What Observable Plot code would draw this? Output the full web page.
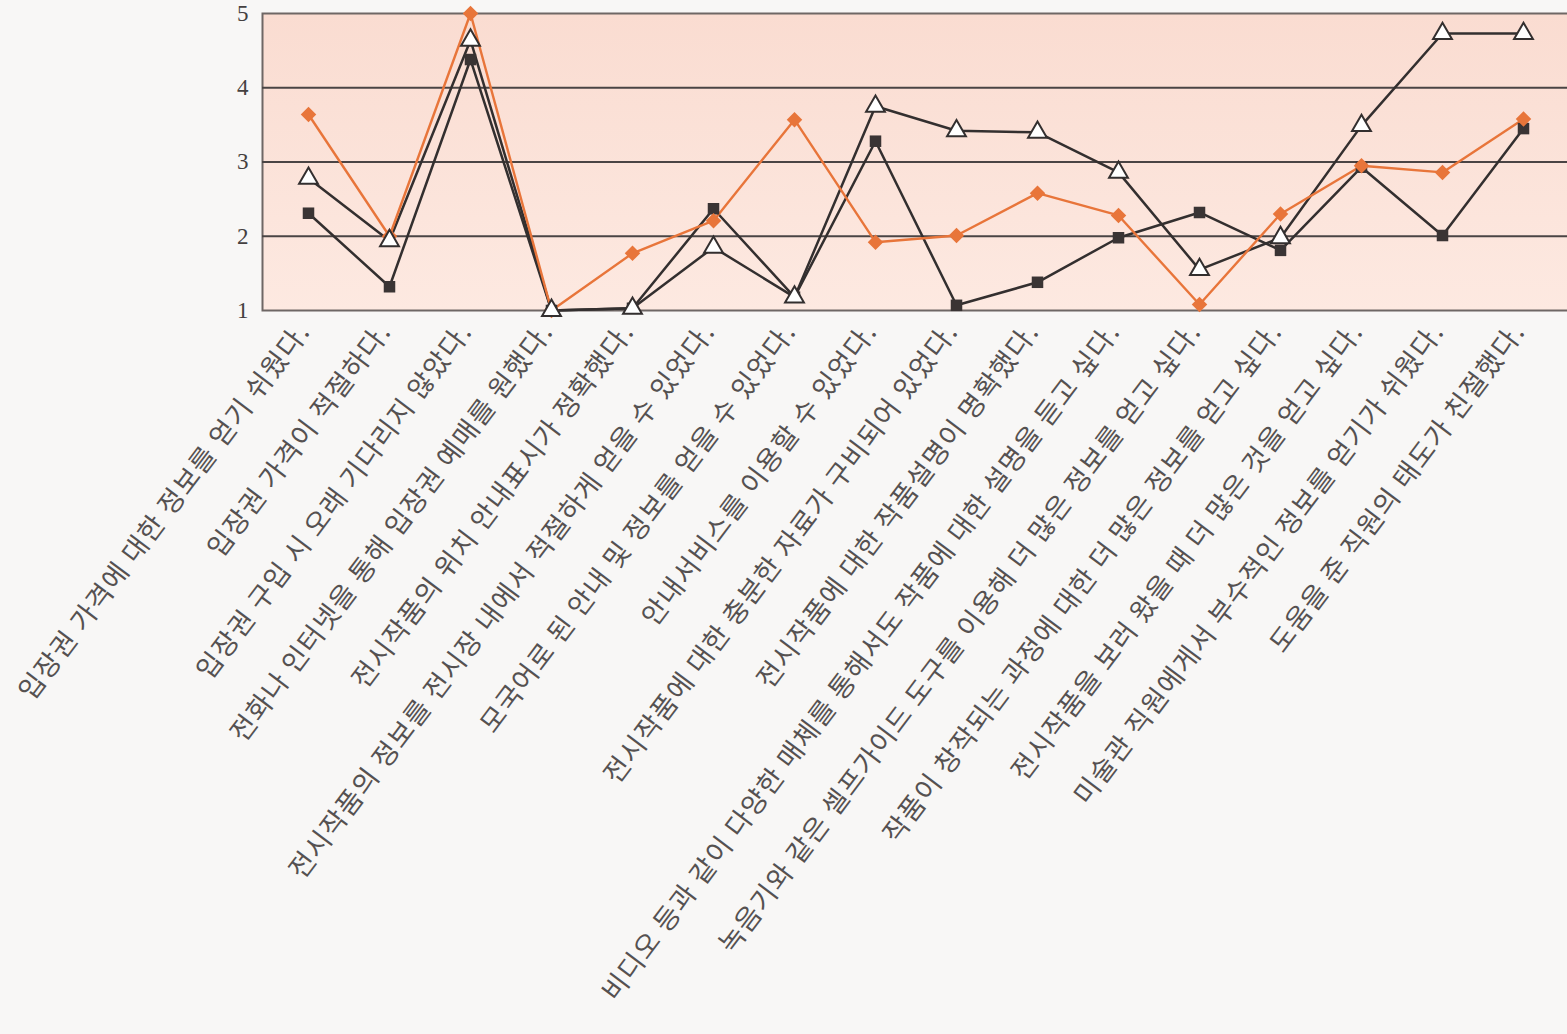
<!DOCTYPE html>
<html>
<head>
<meta charset="utf-8">
<script src="https://cdn.jsdelivr.net/npm/d3@7"></script>
<script src="https://cdn.jsdelivr.net/npm/@observablehq/plot@0.6"></script>
<style>
  html, body { margin: 0; padding: 0; background: #f8f7f6; }
  #chart { width: 1567px; height: 1034px; overflow: hidden; }
</style>
</head>
<body>
<div id="chart"></div>
<script>
const categories = [
  "입장권 가격에 대한 정보를 얻기 쉬웠다.",
  "입장권 가격이 적절하다.",
  "입장권 구입 시 오래 기다리지 않았다.",
  "전화나 인터넷을 통해 입장권 예매를 원했다.",
  "전시작품의 위치 안내표시가 정확했다.",
  "전시작품의 정보를 전시장 내에서 적절하게 얻을 수 있었다.",
  "모국어로 된 안내 및 정보를 얻을 수 있었다.",
  "안내서비스를 이용할 수 있었다.",
  "전시작품에 대한 충분한 자료가 구비되어 있었다.",
  "전시작품에 대한 작품설명이 명확했다.",
  "비디오 등과 같이 다양한 매체를 통해서도 작품에 대한 설명을 듣고 싶다.",
  "녹음기와 같은 셀프가이드 도구를 이용해 더 많은 정보를 얻고 싶다.",
  "작품이 창작되는 과정에 대한 더 많은 정보를 얻고 싶다.",
  "전시작품을 보러 왔을 때 더 많은 것을 얻고 싶다.",
  "미술관 직원에게서 부수적인 정보를 얻기가 쉬웠다.",
  "도움을 준 직원의 태도가 친절했다."
];
const orangeValues   = [3.64, 2.00, 5.00, 1.00, 1.77, 2.21, 3.57, 1.92, 2.01, 2.58, 2.28, 1.08, 2.30, 2.95, 2.86, 3.58];
const squareValues   = [2.31, 1.32, 4.38, 1.00, 1.03, 2.37, 1.18, 3.28, 1.07, 1.38, 1.98, 2.32, 1.81, 2.93, 2.01, 3.45];
const triangleValues = [2.78, 1.94, 4.64, 1.00, 1.03, 1.85, 1.18, 3.75, 3.42, 3.40, 2.86, 1.55, 1.98, 3.49, 4.73, 4.73];
const yTicks = [1, 2, 3, 4, 5];
const gridTicks = [2, 3, 4];

const toRows = (vals) => categories.map((c, i) => ({cat: c, v: vals[i]}));
const orange = toRows(orangeValues);
const square = toRows(squareValues);
const triangle = toRows(triangleValues);

const dark = "#332f2f";
const orangeColor = "#e8753a";

const chart = Plot.plot({
  width: 1567,
  height: 1034,
  marginLeft: 262,
  marginRight: -2,
  marginTop: 13,
  marginBottom: 724,
  style: {background: "transparent", overflow: "visible"},
  x: {type: "point", domain: categories, padding: 0.5, axis: null},
  y: {domain: [1, 5], axis: null},
  marks: [
    Plot.frame({fill: "url(#bgGrad)", stroke: "#6e6765", strokeWidth: 2}),
    Plot.ruleY(gridTicks, {stroke: "#4a4444", strokeWidth: 2}),
    Plot.axisY(yTicks, {
      tickSize: 0, tickPadding: 14, fontSize: 23, fill: "#444040",
      tickFormat: "d",
      fontFamily: "'Liberation Serif', 'DejaVu Serif', serif", label: null
    }),
    Plot.line(triangle, {x: "cat", y: "v", stroke: dark, strokeWidth: 2.5}),
    Plot.line(square, {x: "cat", y: "v", stroke: dark, strokeWidth: 2.5}),
    Plot.line(orange, {x: "cat", y: "v", stroke: orangeColor, strokeWidth: 2.4}),
    Plot.dot(square, {x: "cat", y: "v", symbol: "square", r: 6.5, fill: "#3a3434", stroke: "none"}),
    Plot.dot(orange, {x: "cat", y: "v", symbol: "diamond2", r: 7, fill: orangeColor, stroke: "none"}),
    Plot.dot(triangle, {x: "cat", y: "v", symbol: "triangle", r: 7, fill: "#ffffff", stroke: dark, strokeWidth: 2}),
    Plot.text(categories, {
      x: d => d, y: () => 1, text: d => d,
      rotate: -53, textAnchor: "end", lineAnchor: "middle",
      dx: -4, dy: 16, fontSize: 27,
      fill: "#555151",
      fontFamily: "'Noto Sans CJK KR', 'Noto Sans', sans-serif",
      clip: false
    })
  ]
});

// gradient for plot background
const ns = "http://www.w3.org/2000/svg";
const defs = document.createElementNS(ns, "defs");
const grad = document.createElementNS(ns, "linearGradient");
grad.setAttribute("id", "bgGrad");
grad.setAttribute("x1", "0"); grad.setAttribute("y1", "0");
grad.setAttribute("x2", "0"); grad.setAttribute("y2", "1");
[["0%", "#fadcd1"], ["100%", "#fde9e1"]].forEach(([o, c]) => {
  const s = document.createElementNS(ns, "stop");
  s.setAttribute("offset", o); s.setAttribute("stop-color", c);
  grad.appendChild(s);
});
defs.appendChild(grad);
chart.insertBefore(defs, chart.firstChild);
chart.querySelectorAll('g[aria-label="text"]').forEach(g => {
  g.setAttribute("letter-spacing", "1.3px");
  g.style.letterSpacing = "1.3px";
});
document.getElementById("chart").appendChild(chart);
</script>
</body>
</html>
